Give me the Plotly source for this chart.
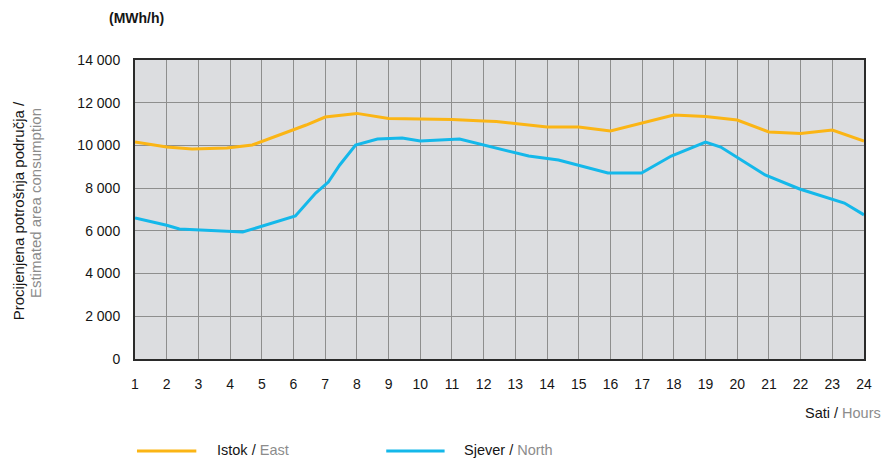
import plotly.graph_objects as go

# Hours (fractional positions) and values in MWh/h
east_hours = [1, 2, 2.8, 3.9, 4.7, 6.4, 7.0, 8.0, 9.0, 10, 11, 12.0, 12.4, 14.0, 15.0, 16.0, 17.0, 18.0, 19.0, 20.0, 21.0, 22.0, 23.0, 24]
east_values = [10160, 9926, 9832, 9879, 10019, 10956, 11330, 11500, 11260, 11240, 11210, 11143, 11120, 10862, 10862, 10675, 11050, 11424, 11350, 11190, 10628, 10560, 10722, 10207]

north_hours = [1, 2, 2.4, 4.0, 4.4, 6.06, 6.7, 7.1, 7.46, 7.96, 8.65, 9.43, 10.0, 11.24, 12.02, 12.39, 13.42, 14.36, 15.92, 16.98, 17.92, 19.0, 19.48, 20.88, 21.97, 23.38, 24]
north_values = [6602, 6260, 6087, 5980, 5946, 6695, 7772, 8287, 9083, 10019, 10300, 10347, 10207, 10300, 10019, 9879, 9504, 9317, 8709, 8709, 9504, 10160, 9926, 8615, 7960, 7304, 6750]

x_ticks = list(range(1, 25))
y_ticks = [0, 2000, 4000, 6000, 8000, 10000, 12000, 14000]
y_tick_labels = ["0", "2 000", "4 000", "6 000", "8 000", "10 000", "12 000", "14 000"]

ORANGE = "#fbb515"
BLUE = "#14b8ea"
FONT = "Liberation Sans"
DARK = "#151515"
GREY = "#8c8c8c"

ML, MR, MT, MB = 135, 9, 60, 99
W, H = 881, 458
PW = W - ML - MR
PH = H - MT - MB

fig = go.Figure()
fig.add_trace(go.Scatter(x=east_hours, y=east_values, mode="lines",
                         line=dict(color=ORANGE, width=3), name="Istok / East",
                         showlegend=False))
fig.add_trace(go.Scatter(x=north_hours, y=north_values, mode="lines",
                         line=dict(color=BLUE, width=3), name="Sjever / North",
                         showlegend=False))

fig.update_layout(
    width=W, height=H,
    margin=dict(l=ML, r=MR, t=MT, b=MB),
    paper_bgcolor="white",
    plot_bgcolor="#dcdde0",
    font=dict(family=FONT, size=14, color=DARK),
)
fig.update_xaxes(
    range=[1, 24], tickvals=x_ticks, ticktext=[str(v) for v in x_ticks],
    showgrid=True, gridcolor="#8e8e8e", gridwidth=1,
    showline=True, linecolor="#2a2a2a", linewidth=2, mirror=True,
    zeroline=False, ticks="", ticklabelstandoff=11,
    tickfont=dict(family=FONT, size=14, color=DARK),
)
fig.update_yaxes(
    range=[0, 14000], tickvals=y_ticks, ticktext=y_tick_labels,
    showgrid=True, gridcolor="#8e8e8e", gridwidth=1,
    showline=True, linecolor="#2a2a2a", linewidth=2, mirror=True,
    zeroline=False, ticks="", ticklabelstandoff=10,
    tickfont=dict(family=FONT, size=14, color=DARK),
)

def px_x(p):
    return (p - ML) / float(PW)

def px_y(p):
    return (H - MB - p) / float(PH)

annotations = [
    dict(text="<b>(MWh/h)</b>", x=px_x(137), y=px_y(18), xref="paper", yref="paper",
         showarrow=False, xanchor="center", yanchor="middle",
         font=dict(family=FONT, size=14, color=DARK)),
    dict(text="Procijenjena potrošnja područja /", x=px_x(17), y=px_y(211),
         xref="paper", yref="paper", showarrow=False, textangle=-90,
         xanchor="center", yanchor="middle",
         font=dict(family=FONT, size=15, color=DARK)),
    dict(text="Estimated area consumption", x=px_x(34), y=px_y(203),
         xref="paper", yref="paper", showarrow=False, textangle=-90,
         xanchor="center", yanchor="middle",
         font=dict(family=FONT, size=15, color=GREY)),
    dict(text="Sati / <span style='color:%s'>Hours</span>" % GREY, x=px_x(880), y=px_y(413),
         xref="paper", yref="paper", showarrow=False, xanchor="right", yanchor="middle",
         xshift=10, borderpad=0,
         font=dict(family=FONT, size=14.5, color=DARK)),
    dict(text="Istok / <span style='color:%s'>East</span>" % GREY, x=px_x(217), y=px_y(450),
         xref="paper", yref="paper", showarrow=False, xanchor="left", yanchor="middle",
         borderpad=0,
         font=dict(family=FONT, size=14.5, color=DARK)),
    dict(text="Sjever / <span style='color:%s'>North</span>" % GREY, x=px_x(467), y=px_y(450),
         xref="paper", yref="paper", showarrow=False, xanchor="left", yanchor="middle",
         borderpad=0,
         font=dict(family=FONT, size=14.5, color=DARK)),
]
fig.update_layout(annotations=annotations)

shapes = [
    dict(type="line", xref="paper", yref="paper", x0=px_x(137), x1=px_x(197),
         y0=px_y(451), y1=px_y(451), line=dict(color=ORANGE, width=3)),
    dict(type="line", xref="paper", yref="paper", x0=px_x(389), x1=px_x(448),
         y0=px_y(451), y1=px_y(451), line=dict(color=BLUE, width=3)),
]
fig.update_layout(shapes=shapes)

fig.write_html(
    "out.html",
    config={"displayModeBar": False},
    post_script="document.body.style.margin='0px';document.body.style.overflow='hidden';",
)
